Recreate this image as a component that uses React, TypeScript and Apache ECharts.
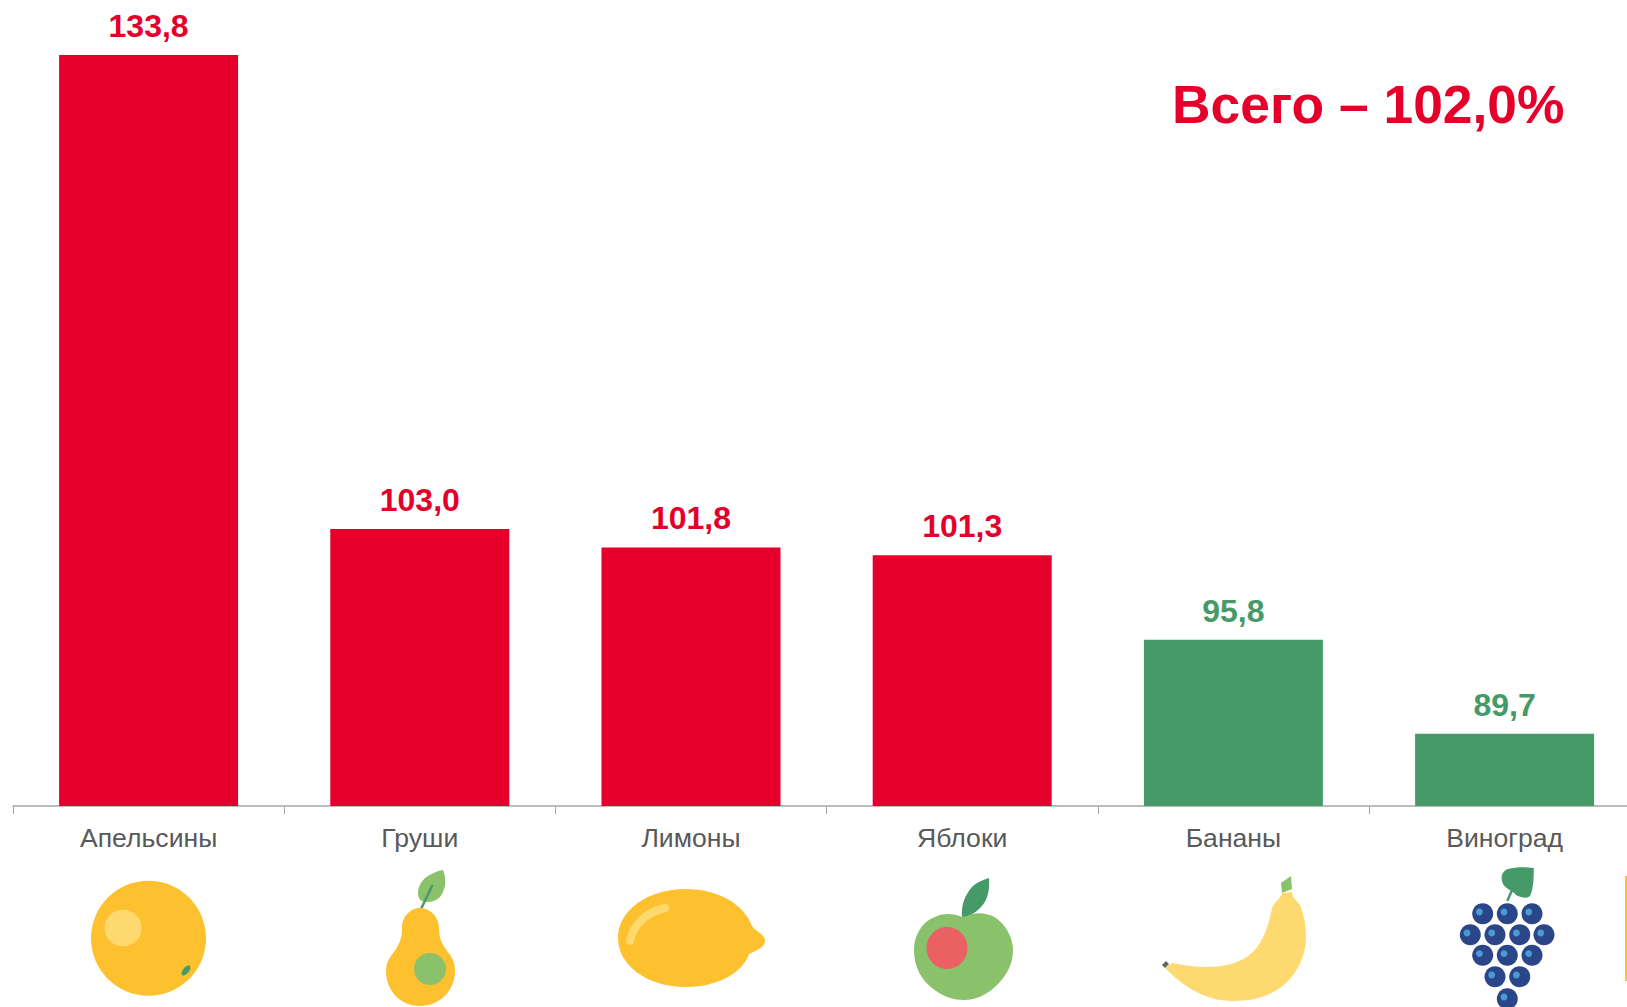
import React, { useEffect, useRef } from "react";
import * as echarts from "echarts";

const categories = ["Апельсины", "Груши", "Лимоны", "Яблоки", "Бананы", "Виноград"];
const values = [133.8, 103.0, 101.8, 101.3, 95.8, 89.7];
const RED = "#e4002b";
const GREEN = "#459a68";
const barColors = [RED, RED, RED, RED, GREEN, GREEN];
const totalLabel = "Всего – 102,0%";

const YELLOW = "#fdc02f";
const PALE = "#fdd96f";
const LEAF = "#8ac16b";
const FONT = '"Liberation Sans", Arial, sans-serif';

const shapes: Record<string, string> = {
  pearBody: "M420 908 C430 908 439 917 439 928 C439 945 448 950 452 958 C455 964 455 968 455 971 C455 990 440 1006 420 1006 C400 1006 386 990 386 971 C386 960 392 955 396 949 C401 941 402 935 402 928 C402 917 410 908 420 908 Z",
  pearLeaf: "M443 870 C446 878 447 888 440 897 C434 903 425 903 420 900 C416 893 418 885 425 878 C430 874 437 871 443 870 Z",
  lemonBody: "M618 938 C618 910 648 889 686 889 C718 889 744 904 752 926 C756 932 765 934 765 941 C765 947 757 950 749 954 C742 974 716 987 686 987 C648 987 618 966 618 938 Z",
  lemonShine: "M630 941 C633 925 646 912 665 908",
  appleBody: "M962 917 C950 911 935 914 925 923 C917 931 914 941 914 950 C914 968 922 980 932 988 C942 996 952 1000 964 1000 C976 1000 988 994 997 985 C1007 975 1013 964 1013 950 C1013 938 1006 925 996 918 C986 912 974 912 962 917 Z",
  appleLeaf: "M989 878 C990 892 987 902 979 909 C974 914 968 916 962 917 C961 905 965 895 972 887 C977 882 983 880 989 878 Z",
  bananaBody: "M1282 893 L1292 892 L1293 897 L1300 905 C1305 918 1306 928 1306 937 C1306 955 1298 972 1285 984 C1270 997 1252 1001 1233 1001 C1205 1001 1183 986 1165 968 L1172 963 C1183 965 1195 967 1205 967 C1222 967 1238 964 1248 956 C1260 948 1268 930 1272 908 C1274 902 1280 900 1282 893 Z",
  bananaTop: "M1291 876 L1292 889 L1282 893 L1281 883 Z",
  bananaTip: "M1162 965 L1166 961 L1169 964 L1165 968 Z",
  grapeLeaf: "M1533.7 868 C1534 880 1533 890 1530 896 C1527 899 1522 898 1516 895 C1512 890 1507 890 1503 884 C1500 877 1502 871 1508 869 C1516 867 1525 867 1533.7 868 Z",
};
Object.keys(shapes).forEach((name) => {
  echarts.graphic.registerShape(name, echarts.graphic.extendPath(shapes[name], {}));
});

const grapeRows = [
  { y: 913.7, xs: [1482.7, 1507.3, 1532] },
  { y: 934.7, xs: [1470.3, 1495, 1519.7, 1544] },
  { y: 955.3, xs: [1482.7, 1507.3, 1532] },
  { y: 976.7, xs: [1495, 1519.7] },
  { y: 998.7, xs: [1507.3] },
];

function fill(type: string, color: string) {
  return { type, x: 0, y: 0, silent: true, style: { fill: color } };
}
function ellipse(cx: number, cy: number, rx: number, ry: number, color: string, rotation = 0) {
  return { type: "ellipse", x: cx, y: cy, rotation, silent: true, shape: { cx: 0, cy: 0, rx, ry }, style: { fill: color } };
}
function stem(x1: number, y1: number, x2: number, y2: number, color: string, w: number) {
  return { type: "line", silent: true, shape: { x1, y1, x2, y2 }, style: { stroke: color, lineWidth: w, lineCap: "round" } };
}

function icons(): any[] {
  const out: any[] = [
    // orange
    ellipse(148.5, 938.3, 57.5, 57.5, YELLOW),
    ellipse(123, 928, 18.5, 18.5, PALE),
    ellipse(186, 970.5, 6, 3, GREEN, 0.9),
    // pear
    fill("pearLeaf", LEAF),
    stem(432, 886, 421.5, 908, GREEN, 2.5),
    fill("pearBody", YELLOW),
    ellipse(430, 969, 16, 16, LEAF),
    // lemon
    fill("lemonBody", YELLOW),
    { type: "lemonShine", x: 0, y: 0, silent: true, style: { fill: "none", stroke: PALE, lineWidth: 8, lineCap: "round" } },
    // apple
    fill("appleBody", LEAF),
    fill("appleLeaf", GREEN),
    ellipse(947, 948, 20.5, 21, "#eb6063"),
    // banana
    fill("bananaBody", PALE),
    fill("bananaTop", LEAF),
    fill("bananaTip", "#666666"),
    // grapes
    fill("grapeLeaf", GREEN),
    stem(1513, 888, 1507.7, 900, GREEN, 2.5),
  ];
  grapeRows.forEach((row) => {
    row.xs.forEach((x) => {
      out.push(ellipse(x, row.y, 10.5, 10.5, "#2b4589"));
      out.push(ellipse(x - 3.3, row.y - 1.7, 3.4, 3.4, "#4a9ad4"));
    });
  });
  // edge strip at the right border
  out.push({ type: "rect", silent: true, shape: { x: 1625, y: 876, width: 2, height: 105 }, style: { fill: YELLOW } });
  return out;
}

export default function App() {
  const ref = useRef<HTMLDivElement>(null);
  useEffect(() => {
    document.body.style.margin = "0";
    document.body.style.overflow = "hidden";
    const chart = echarts.init(ref.current!, undefined, { renderer: "svg" });
    chart.setOption({
      animation: false,
      backgroundColor: "#ffffff",
      grid: { left: 13, top: 55, width: 1627.2, height: 751, containLabel: false, outerBoundsMode: "none" },
      xAxis: {
        type: "category",
        data: categories,
        axisLine: { lineStyle: { color: "#a6a6a6", width: 1.5 } },
        axisTick: { show: true, alignWithLabel: false, length: 8, lineStyle: { color: "#a6a6a6", width: 1 } },
        axisLabel: { color: "#595959", fontSize: 26.6, fontFamily: FONT, margin: 18, interval: 0 },
      },
      yAxis: { type: "value", min: 85, max: 133.8, show: false, splitLine: { show: false } },
      series: [
        {
          type: "bar",
          barWidth: 179,
          data: values.map((v, i) => ({
            value: v,
            itemStyle: { color: barColors[i] },
            label: { color: barColors[i] },
          })),
          label: {
            show: true,
            position: "top",
            distance: 13,
            fontSize: 32,
            fontWeight: "bold",
            fontFamily: FONT,
            formatter: (p: any) => Number(p.value).toFixed(1).replace(".", ","),
          },
        },
      ],
      graphic: [
        {
          type: "text",
          x: 1172,
          y: 77.5,
          silent: true,
          style: { text: totalLabel, fill: RED, font: `bold 53.4px ${FONT}` },
        },
        ...icons(),
      ],
    });
    return () => chart.dispose();
  }, []);
  return <div ref={ref} style={{ width: 1627, height: 1007 }} />;
}
